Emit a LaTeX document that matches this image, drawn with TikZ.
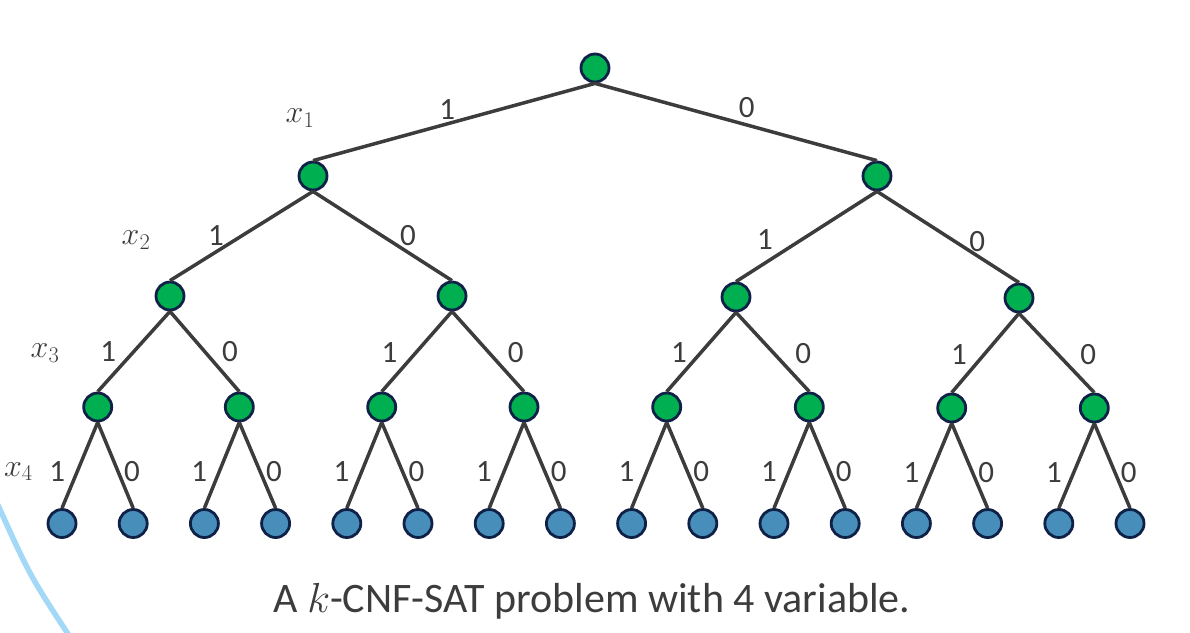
\documentclass[tikz,border=0pt]{standalone}
\usepackage{fix-cm}
\usepackage{fontspec}
\setmainfont{Carlito}
\definecolor{nodegreen}{HTML}{00B050}
\definecolor{leafblue}{HTML}{478FBA}
\definecolor{rimblue}{HTML}{0F2147}
\definecolor{inkgray}{HTML}{3C3C3C}
\definecolor{arcblue}{HTML}{A3D8F6}
\tikzset{decision/.style={circle, draw=rimblue, line width=2.8pt, fill=nodegreen, minimum size=28pt, inner sep=0pt}}
\tikzset{leaf/.style={decision, fill=leafblue}}
\tikzset{branch/.style={draw=inkgray, line width=3.5pt}}
\tikzset{bit/.style={midway, text=inkgray, inner sep=0pt, font=\fontsize{31}{33}\selectfont, shift={(#1)}}}
\tikzset{varlabel/.style={text=inkgray, inner sep=0pt, font=\fontsize{32}{34}\selectfont}}

\begin{document}
\begin{tikzpicture}[x=1pt, y=-1pt]
    \useasboundingbox (0,0) rectangle (1190,632);
    \draw[arcblue, line width=5.5pt] (-3,503) .. controls (30,576) .. (72,640);

    \node[decision] (n) at (595,68) {};
    \node[decision] (n1) at (313,176) {};
    \node[decision] (n0) at (877,176) {};
    \node[decision] (n11) at (170,296) {};
    \node[decision] (n10) at (452,296) {};
    \node[decision] (n01) at (736,297) {};
    \node[decision] (n00) at (1019,298) {};
    \node[decision] (n111) at (97.7,407) {};
    \node[decision] (n110) at (239.3,407) {};
    \node[decision] (n101) at (381.7,407) {};
    \node[decision] (n100) at (524,407) {};
    \node[decision] (n011) at (666.7,407) {};
    \node[decision] (n010) at (809.3,407) {};
    \node[decision] (n001) at (951.7,408) {};
    \node[decision] (n000) at (1094.3,408) {};

    \node[leaf] (n1111) at (62,523.5) {};
    \node[leaf] (n1110) at (133.2,523.5) {};
    \node[leaf] (n1101) at (204.4,523.5) {};
    \node[leaf] (n1100) at (275.6,523.5) {};
    \node[leaf] (n1011) at (346.8,523.5) {};
    \node[leaf] (n1010) at (418,523.5) {};
    \node[leaf] (n1001) at (489.2,523.5) {};
    \node[leaf] (n1000) at (560.4,523.5) {};
    \node[leaf] (n0111) at (631.6,523.5) {};
    \node[leaf] (n0110) at (702.8,523.5) {};
    \node[leaf] (n0101) at (774,523.5) {};
    \node[leaf] (n0100) at (845.2,523.5) {};
    \node[leaf] (n0011) at (916.4,523.5) {};
    \node[leaf] (n0010) at (987.6,523.5) {};
    \node[leaf] (n0001) at (1058.8,523.5) {};
    \node[leaf] (n0000) at (1130,523.5) {};

    \node[varlabel] (x1) at (300,118) {$x_1$};
    \node[varlabel] (x2) at (136,240) {$x_2$};
    \node[varlabel] (x3) at (45,353) {$x_3$};
    \node[varlabel] (x4) at (18.3,471.7) {$x_4$};

    \draw[branch] (n.south) -- (n1.north) node[bit={-6.7,-12.3}]{1};
    \draw[branch] (n.south) -- (n0.north) node[bit={10.7,-14.5}]{0};

    \draw[branch] (n1.south) -- (n11.north) node[bit={-25.5,0}]{1};
    \draw[branch] (n1.south) -- (n10.north) node[bit={25.5,0}]{0};
    \draw[branch] (n0.south) -- (n01.north) node[bit={-41.5,3.5}]{1};
    \draw[branch] (n0.south) -- (n00.north) node[bit={29.3,4.7}]{0};

    \draw[branch] (n11.south) -- (n111.north) node[bit={-25.5,0.5}]{1};
    \draw[branch] (n11.south) -- (n110.north) node[bit={25.4,0.5}]{0};
    \draw[branch] (n10.south) -- (n101.north) node[bit={-27.5,0.8}]{1};
    \draw[branch] (n10.south) -- (n100.north) node[bit={27.7,0.8}]{0};
    \draw[branch] (n01.south) -- (n011.north) node[bit={-22.4,0.3}]{1};
    \draw[branch] (n01.south) -- (n010.north) node[bit={30.6,1.3}]{0};
    \draw[branch] (n00.south) -- (n001.north) node[bit={-26.4,2}]{1};
    \draw[branch] (n00.south) -- (n000.north) node[bit={31.6,2}]{0};

    \draw[branch] (n111.south) -- (n1111.north) node[bit={-22.7,6}]{1};
    \draw[branch] (n111.south) -- (n1110.north) node[bit={16.5,6}]{0};
    \draw[branch] (n110.south) -- (n1101.north) node[bit={-22.7,6}]{1};
    \draw[branch] (n110.south) -- (n1100.north) node[bit={16.5,6}]{0};
    \draw[branch] (n101.south) -- (n1011.north) node[bit={-22.7,6}]{1};
    \draw[branch] (n101.south) -- (n1010.north) node[bit={16.5,6}]{0};
    \draw[branch] (n100.south) -- (n1001.north) node[bit={-22.7,6}]{1};
    \draw[branch] (n100.south) -- (n1000.north) node[bit={16.5,6}]{0};
    \draw[branch] (n011.south) -- (n0111.north) node[bit={-22.7,6}]{1};
    \draw[branch] (n011.south) -- (n0110.north) node[bit={16.5,6}]{0};
    \draw[branch] (n010.south) -- (n0101.north) node[bit={-22.7,6}]{1};
    \draw[branch] (n010.south) -- (n0100.north) node[bit={16.5,6}]{0};
    \draw[branch] (n001.south) -- (n0011.north) node[bit={-22.7,7}]{1};
    \draw[branch] (n001.south) -- (n0010.north) node[bit={16.5,7}]{0};
    \draw[branch] (n000.south) -- (n0001.north) node[bit={-22.7,7}]{1};
    \draw[branch] (n000.south) -- (n0000.north) node[bit={16.5,7}]{0};

    \node[text=inkgray, anchor=base, font=\fontsize{42}{44}\selectfont] (caption) at (592,612) {A $k$-CNF-SAT problem with 4 variable.};
    % \draw[help lines] (0,0) grid[step=50] (1190,632);
\end{tikzpicture}
\end{document}
